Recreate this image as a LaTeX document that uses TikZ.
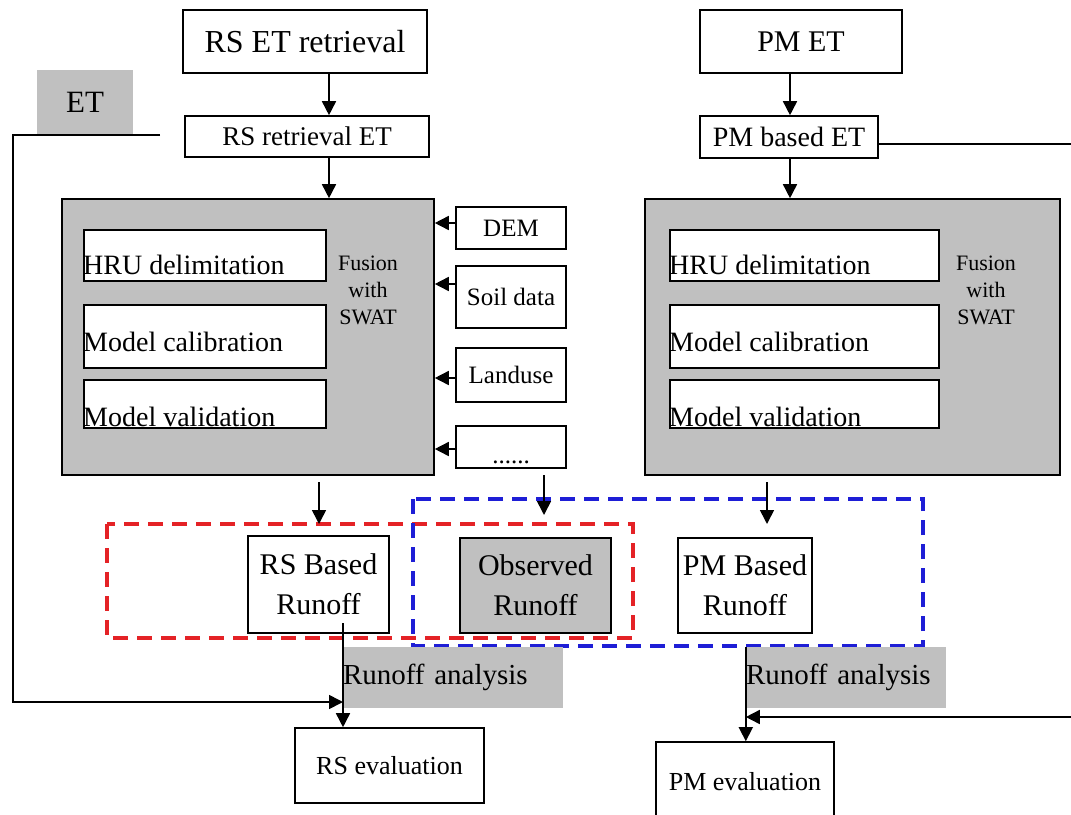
\documentclass[tikz,border=0pt]{standalone}
\usepackage{fontspec}
\setmainfont{Liberation Serif}
\usetikzlibrary{arrows.meta}

\definecolor{boxgray}{RGB}{192,192,192}
\definecolor{dashred}{RGB}{228,34,38}
\definecolor{dashblue}{RGB}{30,30,214}
\newcommand\fsz[2]{\fontsize{#1}{#2}\selectfont}

\tikzset{
  box/.style={draw, line width=1.6pt, inner sep=0pt, fill=white, align=center},
  graybox/.style={box, fill=boxgray},
  shade/.style={fill=boxgray, inner sep=0pt},
  arr/.style={line width=1.6pt, -{Triangle[length=14pt,width=14pt]}},
  link/.style={line width=1.6pt},
  dashbox/.style={line width=3.5pt, dash pattern=on 15pt off 9pt},
}

\begin{document}
\begin{tikzpicture}[x=1pt, y=-1pt]
\useasboundingbox (0,0) rectangle (1071,814);

% top row
\node[box, minimum width=244, minimum height=63, font=\fsz{32}{38}] (rsret) at (305,41.5) {RS ET retrieval};
\node[box, minimum width=244, minimum height=41, font=\fsz{27}{32}] (rsin) at (307,136.5) {RS retrieval ET};
\node[shade, minimum width=96, minimum height=65, font=\fsz{31}{36}] (etlab) at (85,102.5) {ET};
\node[box, minimum width=202, minimum height=63, font=\fsz{30}{36}] (pmet) at (801,41.5) {PM ET};
\node[box, minimum width=178, minimum height=42, font=\fsz{28}{33}] (pmin) at (789,137) {PM based ET};

% SWAT blocks
\foreach \s/\gx/\gw/\ix/\iw/\fx in {L/248/372/83/242/368, R/852.5/415/669/269/986}{
  \node[graybox, minimum width=\gw, minimum height=276] (swat\s) at (\gx,337) {};
  \node[box, anchor=north west, minimum width=\iw, minimum height=51] (hru\s) at (\ix,229) {};
  \node[box, anchor=north west, minimum width=\iw, minimum height=63] (cal\s) at (\ix,304) {};
  \node[box, anchor=north west, minimum width=\iw, minimum height=48] (val\s) at (\ix,379) {};
  \node[inner sep=0pt, anchor=base west, font=\fsz{28}{32}] at ([yshift=7]hru\s.south west) {HRU delimitation};
  \node[inner sep=0pt, anchor=base west, font=\fsz{28}{32}] at ([yshift=17]cal\s.south west) {Model calibration};
  \node[inner sep=0pt, anchor=base west, font=\fsz{28}{32}] at ([yshift=2]val\s.south west) {Model validation};
  \node[inner sep=0pt, align=center, font=\fsz{22}{27}] (fus\s) at (\fx,290) {Fusion\\with\\SWAT};
}

% input data
\foreach \n/\t/\cy/\h/\d in {dem/DEM/228/42/5, soil/Soil data/297/62/13, land/Landuse/375/54/-3}{
  \node[box, minimum width=110, minimum height=\h, font=\fsz{25}{30}] (\n) at (511,\cy) {\t};
  \draw[arr] ([yshift=\d]\n.west) coordinate (a\n) -- (a\n -| swatL.east);
}
\node[box, minimum width=110, minimum height=42] (more) at (511,447) {};
\node[inner sep=0pt, anchor=base, font=\fsz{25}{30}] at ([yshift=5]more.south) {......};
\draw[arr] ([yshift=-2]more.west) coordinate (amore) -- (amore -| swatL.east);

% runoff groups
\draw[dashred, dashbox] (107,524) coordinate (redNW) rectangle (633,638);
\draw[dashblue, dashbox] (413,499) rectangle (923,646);

\node[box, minimum width=141, minimum height=97, font=\fsz{30}{40}] (rsrun) at (318.5,584.5) {RS Based\\Runoff};
\node[graybox, minimum width=151, minimum height=95, font=\fsz{30}{40}] (obsrun) at (535.5,585.5) {Observed\\Runoff};
\node[box, minimum width=134, minimum height=95, font=\fsz{30}{40}] (pmrun) at (745,585.5) {PM Based\\Runoff};

\node[shade, text width=220, minimum height=61, align=left, font=\fsz{29}{34}] (anaL) at (453,677.5) {Runoff analysis};
\node[shade, text width=200, minimum height=61, align=left, font=\fsz{29}{34}] (anaR) at (846,677.5) {Runoff analysis};

\node[box, minimum width=189, minimum height=75, font=\fsz{26}{31}] (rseval) at (389.5,765.5) {RS evaluation};
\node[box, minimum width=178, minimum height=80, font=\fsz{26}{31}] (pmeval) at (745,782) {PM evaluation};

% connectors
\coordinate (axL) at (329,0);
\coordinate (axR) at (790,0);
\draw[arr] (rsret.south -| axL) -- (rsin.north -| axL);
\draw[arr] (rsin.south -| axL) -- (swatL.north -| axL);
\draw[arr] (pmet.south -| axR) -- (pmin.north -| axR);
\draw[arr] (pmin.south -| axR) -- (swatR.north -| axR);

\coordinate (outL) at (319,482);
\coordinate (outM) at (544,475);
\coordinate (inM) at (544,515);
\coordinate (outR) at (767,482);
\draw[arr] (outL) -- (outL |- redNW);
\draw[arr] (outM) -- (inM);
\draw[arr] (outR) -- (outR |- redNW);

\coordinate (vL) at (343,623);
\draw[arr] (vL) -- (vL |- rseval.north);
\draw[arr] (anaR.north west) -- (anaR.north west |- pmeval.north);

% ET feedback lines
\coordinate (etR) at (160,135);
\coordinate (etC) at (13,702);
\draw[arr] (etR) -- (etR -| etC) -- (etC) -- (etC -| vL);
\coordinate (pmE) at (1071,144);
\coordinate (pmF) at (1071,717);
\draw[link] (pmin.east |- pmE) -- (pmE);
\draw[arr] (pmF) -- (pmF -| anaR.west);
\end{tikzpicture}
\end{document}
